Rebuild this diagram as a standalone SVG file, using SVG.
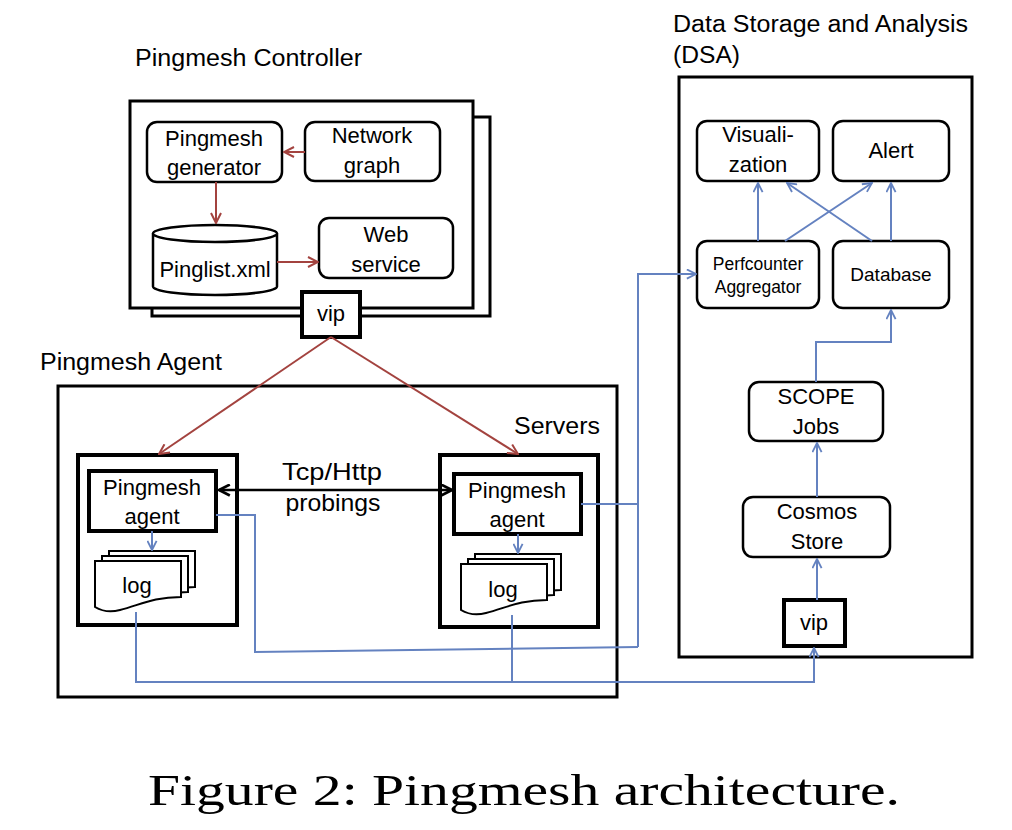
<svg xmlns="http://www.w3.org/2000/svg" width="1012" height="830" viewBox="0 0 1012 830">
<style>
.t{font-family:"Liberation Sans",Arial,sans-serif;font-size:22px;fill:#000;text-anchor:middle}
.h{font-family:"Liberation Sans",Arial,sans-serif;font-size:23px;fill:#000}
.box{fill:#fff;stroke:#000;stroke-width:3}
.nd{fill:#fff;stroke:#000;stroke-width:2.5}
.thick{fill:#fff;stroke:#000;stroke-width:4}
.red{fill:none;stroke:#a3433f;stroke-width:2}
.blue{fill:none;stroke:#6482c0;stroke-width:2}
.blk{fill:none;stroke:#000;stroke-width:2.5}
.doc{fill:#fff;stroke:#000;stroke-width:2}
</style>
<defs>
<marker id="ar" viewBox="0 0 12 12" refX="11" refY="6" markerWidth="12" markerHeight="12" markerUnits="userSpaceOnUse" orient="auto">
<path d="M1,1 L11,6 L1,11" fill="none" stroke="#a3433f" stroke-width="2"/>
</marker>
<marker id="ab" viewBox="0 0 12 12" refX="11" refY="6" markerWidth="11" markerHeight="11" markerUnits="userSpaceOnUse" orient="auto">
<path d="M1,1 L11,6 L1,11" fill="none" stroke="#6482c0" stroke-width="2"/>
</marker>
<marker id="ak" viewBox="0 0 12 12" refX="11" refY="6" markerWidth="13" markerHeight="13" markerUnits="userSpaceOnUse" orient="auto-start-reverse">
<path d="M1,1 L11,6 L1,11" fill="none" stroke="#000" stroke-width="2.5"/>
</marker>
<path id="docshape" d="M0,0 H86 V36 C58,36 45,44 25,49 C14,52 5,49 0,46 Z"/>
</defs>
<rect width="1012" height="830" fill="#fff"/>

<!-- headers -->
<text class="h" x="135" y="66" textLength="227" lengthAdjust="spacingAndGlyphs">Pingmesh Controller</text>
<text class="h" x="673" y="32" textLength="295" lengthAdjust="spacingAndGlyphs">Data Storage and Analysis</text>
<text class="h" x="673" y="63" textLength="67" lengthAdjust="spacingAndGlyphs">(DSA)</text>
<text class="h" x="40" y="370" textLength="182" lengthAdjust="spacingAndGlyphs">Pingmesh Agent</text>

<!-- Controller -->
<g id="controller">
<rect class="box" x="152" y="117" width="338" height="199"/>
<rect class="box" x="130" y="101" width="343" height="207"/>
</g>
<g id="pingmesh-generator">
<rect class="nd" x="147" y="122" width="135" height="60" rx="10"/>
<text class="t" x="214" y="146">Pingmesh</text>
<text class="t" x="214" y="175">generator</text>
</g>
<g id="network-graph">
<rect class="nd" x="305" y="122" width="135" height="59" rx="10"/>
<text class="t" x="372" y="143">Network</text>
<text class="t" x="372" y="173">graph</text>
</g>
<g id="pinglist">
<path class="nd" d="M153,233.5 V286.5 A62,8.5 0 0 0 277,286.5 V233.5"/>
<ellipse class="nd" cx="215" cy="233.5" rx="62" ry="8.5"/>
<text class="t" x="215" y="277">Pinglist.xml</text>
</g>
<g id="web-service">
<rect class="nd" x="319" y="218" width="134" height="60" rx="10"/>
<text class="t" x="386" y="242">Web</text>
<text class="t" x="386" y="272">service</text>
</g>
<g id="vip-controller">
<rect class="thick" x="302" y="292" width="58" height="45"/>
<text class="t" x="331" y="321">vip</text>
</g>

<!-- Agent -->
<g id="agent-area">
<rect class="box" x="58" y="386" width="559" height="311"/>
<text class="h" x="514" y="434" textLength="86" lengthAdjust="spacingAndGlyphs">Servers</text>
</g>
<g id="server-left">
<rect class="thick" x="78" y="455" width="159" height="170"/>
</g>
<g id="agent-left">
<rect class="thick" x="89" y="471" width="127" height="60"/>
<text class="t" x="152" y="495">Pingmesh</text>
<text class="t" x="152" y="524">agent</text>
</g>
<g id="log-left">
<use href="#docshape" class="doc" x="109" y="551"/>
<use href="#docshape" class="doc" x="102" y="556"/>
<use href="#docshape" class="doc" x="95" y="561"/>
<text class="t" x="137" y="593">log</text>
</g>
<g id="server-right">
<rect class="thick" x="440" y="455" width="158" height="172"/>
</g>
<g id="agent-right">
<rect class="thick" x="454" y="474" width="127" height="60"/>
<text class="t" x="517" y="498">Pingmesh</text>
<text class="t" x="517" y="527">agent</text>
</g>
<g id="log-right">
<use href="#docshape" class="doc" x="475" y="554"/>
<use href="#docshape" class="doc" x="468" y="559"/>
<use href="#docshape" class="doc" x="461" y="564"/>
<text class="t" x="503" y="597">log</text>
</g>
<text class="t" x="332" y="480" style="font-size:24px" textLength="100" lengthAdjust="spacingAndGlyphs">Tcp/Http</text>
<text class="t" x="333" y="511" style="font-size:24px" textLength="95" lengthAdjust="spacingAndGlyphs">probings</text>

<!-- DSA -->
<g id="dsa">
<rect class="box" x="679" y="77" width="293" height="580"/>
</g>
<g id="visualization">
<rect class="nd" x="697" y="121" width="122" height="60" rx="10"/>
<text class="t" x="758" y="142">Visuali-</text>
<text class="t" x="758" y="172">zation</text>
</g>
<g id="alert">
<rect class="nd" x="833" y="121" width="116" height="60" rx="10"/>
<text class="t" x="891" y="158">Alert</text>
</g>
<g id="perfcounter">
<rect class="nd" x="697" y="241" width="122" height="67" rx="10"/>
<text class="t" x="758" y="270" style="font-size:17.5px">Perfcounter</text>
<text class="t" x="758" y="293" style="font-size:17.5px">Aggregator</text>
</g>
<g id="database">
<rect class="nd" x="833" y="241" width="116" height="67" rx="10"/>
<text class="t" x="891" y="281" style="font-size:19px">Database</text>
</g>
<g id="scope">
<rect class="nd" x="749" y="382" width="134" height="59" rx="10"/>
<text class="t" x="816" y="404">SCOPE</text>
<text class="t" x="816" y="434">Jobs</text>
</g>
<g id="cosmos">
<rect class="nd" x="743" y="497" width="147" height="60" rx="10"/>
<text class="t" x="817" y="519">Cosmos</text>
<text class="t" x="817" y="549">Store</text>
</g>
<g id="vip-dsa">
<rect class="thick" x="784" y="600" width="61" height="46"/>
<text class="t" x="814" y="630">vip</text>
</g>

<!-- connectors -->
<g id="connectors">
<line class="red" x1="305" y1="152" x2="284" y2="152" marker-end="url(#ar)"/>
<line class="red" x1="216" y1="182" x2="216" y2="223" marker-end="url(#ar)"/>
<line class="red" x1="277" y1="262" x2="318" y2="262" marker-end="url(#ar)"/>
<line class="red" x1="331" y1="337" x2="159" y2="454" marker-end="url(#ar)"/>
<line class="red" x1="331" y1="337" x2="518" y2="454" marker-end="url(#ar)"/>
<line class="blk" x1="219" y1="490" x2="452" y2="490" marker-start="url(#ak)" marker-end="url(#ak)"/>
<line class="blue" x1="152" y1="531" x2="152" y2="550" marker-end="url(#ab)"/>
<line class="blue" x1="518" y1="534" x2="518" y2="553" marker-end="url(#ab)"/>
<polyline class="blue" points="216,515 255,515 255,652 638,647"/>
<polyline class="blue" points="581,504 638,504"/>
<polyline class="blue" points="638,647 638,274 696,274" marker-end="url(#ab)"/>
<polyline class="blue" points="136,612 136,682 814,682 814,648" marker-end="url(#ab)"/>
<line class="blue" x1="512" y1="615" x2="512" y2="682"/>
<line class="blue" x1="817" y1="600" x2="817" y2="559" marker-end="url(#ab)"/>
<line class="blue" x1="817" y1="497" x2="817" y2="443" marker-end="url(#ab)"/>
<polyline class="blue" points="816,382 816,342 891,342 891,310" marker-end="url(#ab)"/>
<line class="blue" x1="758" y1="241" x2="758" y2="183" marker-end="url(#ab)"/>
<line class="blue" x1="891" y1="241" x2="891" y2="183" marker-end="url(#ab)"/>
<line class="blue" x1="785" y1="241" x2="872" y2="183" marker-end="url(#ab)"/>
<line class="blue" x1="872" y1="241" x2="787" y2="183" marker-end="url(#ab)"/>
</g>

<text x="148" y="805" style="font-family:'Liberation Serif','Times New Roman',serif;font-size:44px" textLength="752" lengthAdjust="spacingAndGlyphs">Figure 2: Pingmesh architecture.</text>
</svg>
